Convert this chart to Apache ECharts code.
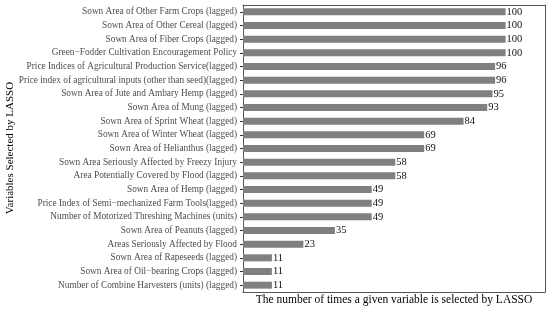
<!DOCTYPE html>
<html>
<head>
<meta charset="utf-8">
<script src="https://cdn.jsdelivr.net/npm/echarts@6/dist/echarts.min.js"></script>
<style>html,body{margin:0;padding:0;background:#fff}#c{width:550px;height:309px}</style>
</head>
<body>
<div id="c"></div>
<script>
var categories = [
  "Sown Area of Other Farm Crops (lagged)",
  "Sown Area of Other Cereal (lagged)",
  "Sown Area of Fiber Crops (lagged)",
  "Green\u2212Fodder Cultivation Encouragement Policy",
  "Price Indices of Agricultural Production Service(lagged)",
  "Price index of agricultural inputs (other than seed)(lagged)",
  "Sown Area of Jute and Ambary Hemp (lagged)",
  "Sown Area of Mung (lagged)",
  "Sown Area of Sprint Wheat (lagged)",
  "Sown Area of Winter Wheat (lagged)",
  "Sown Area of Helianthus (lagged)",
  "Sown Area Seriously Affected by Freezy Injury",
  "Area Potentially Covered by Flood (lagged)",
  "Sown Area of Hemp (lagged)",
  "Price Index of Semi\u2212mechanized Farm Tools(lagged)",
  "Number of Motorized Threshing Machines (units)",
  "Sown Area of Peanuts (lagged)",
  "Areas Seriously Affected by Flood",
  "Sown Area of Rapeseeds (lagged)",
  "Sown Area of Oil\u2212bearing Crops (lagged)",
  "Number of Combine Harvesters (units) (lagged)"
];
var counts = [100, 100, 100, 100, 96, 96, 95, 93, 84, 69, 69, 58, 58, 49, 49, 49, 35, 23, 11, 11, 11];
var xTitle = "The number of times a given variable is selected by LASSO";
var yTitle = "Variables Selected by LASSO";

var FONT = "Liberation Serif";
var FRAME = {show: true, onZero: false, lineStyle: {color: '#555', width: 1}};
var chart = echarts.init(document.getElementById('c'), null, {renderer: 'canvas'});
chart.setOption({
  animation: false,
  backgroundColor: '#fff',
  grid: {left: 243, right: 5, top: 5, bottom: 17, outerBoundsMode: 'none', show: false},
  graphic: [{
    type: 'text', x: 10, y: 148, rotation: Math.PI / 2,
    style: {text: yTitle, font: '11px "Liberation Serif"', fill: '#000', align: 'center', verticalAlign: 'middle'}
  }],
  xAxis: [{
    type: 'value', min: 0, max: 115, position: 'bottom',
    axisLabel: {show: false}, axisTick: {show: false}, axisLine: FRAME, splitLine: {show: false},
    name: xTitle, nameLocation: 'middle', nameGap: 2,
    nameTextStyle: {fontFamily: FONT, fontSize: 11.5, color: '#000', verticalAlign: 'top'}
  }, {
    type: 'value', min: 0, max: 115, position: 'top',
    axisLabel: {show: false}, axisTick: {show: false}, axisLine: FRAME, splitLine: {show: false}
  }],
  yAxis: [{
    type: 'category', data: categories, inverse: true, position: 'left',
    axisLine: FRAME,
    axisTick: {show: true, length: 3, lineStyle: {color: '#333'}, alignWithLabel: true},
    axisLabel: {fontFamily: FONT, fontSize: 9.3, color: '#4d4d4d', margin: 6, interval: 0}
  }, {
    type: 'category', data: categories, inverse: true, position: 'right',
    axisLine: FRAME, axisTick: {show: false}, axisLabel: {show: false}
  }],
  series: [{
    type: 'bar', data: counts, barWidth: 7, xAxisIndex: 0, yAxisIndex: 0,
    itemStyle: {color: '#808080'},
    label: {show: true, position: 'right', distance: 1, fontFamily: FONT, fontSize: 10.5, color: '#111'}
  }]
});
</script>
</body>
</html>
